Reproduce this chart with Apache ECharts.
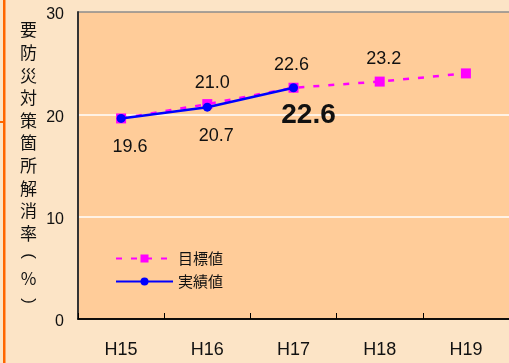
<!DOCTYPE html>
<html><head><meta charset="utf-8">
<script src="https://cdn.jsdelivr.net/npm/echarts@6/dist/echarts.min.js"></script>
<style>html,body{margin:0;padding:0;background:#FCE4C6;}#c{width:509px;height:363px;}</style>
</head><body><div id="c"></div>
<script>
const categories = ['H15', 'H16', 'H17', 'H18', 'H19'];
const targetValues = [19.6, 21.0, 22.6, 23.2, 24.0];
const actualValues = [19.6, 20.7, 22.6];
const yTicks = [0, 10, 20, 30];
const yName = ['要','防','災','対','策','箇','所','解','消','率','(','%',')'];
const seriesNames = ['目標値', '実績値'];

const NUM = '"Liberation Sans", Arial, "Noto Sans CJK JP", sans-serif';
const CJK = '"Noto Sans CJK JP", sans-serif';

const targetLabels = [null,
  {show:true, position:'top', distance:7, offset:[5,0]},
  {show:true, position:'top', distance:9, offset:[-2,0]},
  {show:true, position:'top', distance:9, offset:[4,0]},
  null];
const actualLabels = [
  {show:true, position:'bottom', distance:15, offset:[9,0]},
  {show:true, position:'bottom', distance:15, offset:[9,0]},
  {show:true, position:'bottom', distance:9, offset:[15,0], fontSize:28, fontWeight:'bold'}];

const fmt = p => p.value.toFixed(1);
const targetData = targetValues.map((v,i) => targetLabels[i] ? {value:v, label:Object.assign({formatter:fmt}, targetLabels[i])} : {value:v});
const actualData = actualValues.map((v,i) => ({value:v, label:Object.assign({formatter:fmt}, actualLabels[i])}));

// vertical axis title: one text element per character, parentheses turned for vertical writing
const nameGraphics = yName.map((ch, i) => {
  const isParen = ch === '(' || ch === ')';
  return {
    type:'text', x:28.5, y:30 + i*22.6, rotation: isParen ? -Math.PI/2 : 0,
    style:{text:ch, font: isParen ? '17px "Liberation Sans"' : '17px "Noto Sans CJK JP"',
           fill:'#111', align:'center', verticalAlign:'middle'}
  };
});

const chart = echarts.init(document.getElementById('c'));
chart.setOption({
  backgroundColor: '#FCE4C6',
  animation: false,
  grid: {left:78, top:12, width:440, height:307, show:true, backgroundColor:'#FFCC99', borderWidth:0},
  graphic: [
    {type:'rect', shape:{x:3, y:0, width:2.5, height:363}, style:{fill:'#FF6600'}},
    {type:'rect', shape:{x:0, y:121, width:3, height:2}, style:{fill:'#FF6600'}}
  ].concat(nameGraphics),
  xAxis: {
    type:'category', data:categories, boundaryGap:true,
    axisLine:{show:true, lineStyle:{color:'#000', width:1.5}},
    axisTick:{show:true, inside:true, length:6, lineStyle:{color:'#000'}},
    axisLabel:{color:'#111', fontSize:18, fontFamily:NUM, margin:22}
  },
  yAxis: {
    type:'value', min:yTicks[0], max:yTicks[yTicks.length-1], interval:10,
    axisLine:{show:true, lineStyle:{color:'#333', width:2}},
    axisTick:{show:false},
    axisLabel:{margin:14, formatter: v => '{n|' + v + '}',
      rich:{n:{color:'#111', fontSize:16, fontFamily:NUM, padding:[6,0,0,0]}}},
    splitLine:{show:true, lineStyle:{color:['#000','#ffffff','#ffffff','#8c8c8c'], width:1.5}}
  },
  legend: {
    orient:'vertical', left:110, top:246, itemWidth:57, itemHeight:10, itemGap:8,
    textStyle:{fontSize:15, fontFamily:CJK, color:'#111', lineHeight:15},
    data: seriesNames
  },
  series: [
    {name:seriesNames[0], type:'line', data:targetData, symbol:'rect', symbolSize:10,
     lineStyle:{color:'#FF00FF', width:2.5, type:[6,9]}, itemStyle:{color:'#FF00FF'},
     label:{color:'#111', fontSize:18, fontFamily:NUM}, z:2},
    {name:seriesNames[1], type:'line', data:actualData, symbol:'circle', symbolSize:9,
     lineStyle:{color:'#0000FF', width:2.5}, itemStyle:{color:'#0000FF'},
     label:{color:'#111', fontSize:18, fontFamily:NUM}, z:3}
  ]
});
</script></body></html>
